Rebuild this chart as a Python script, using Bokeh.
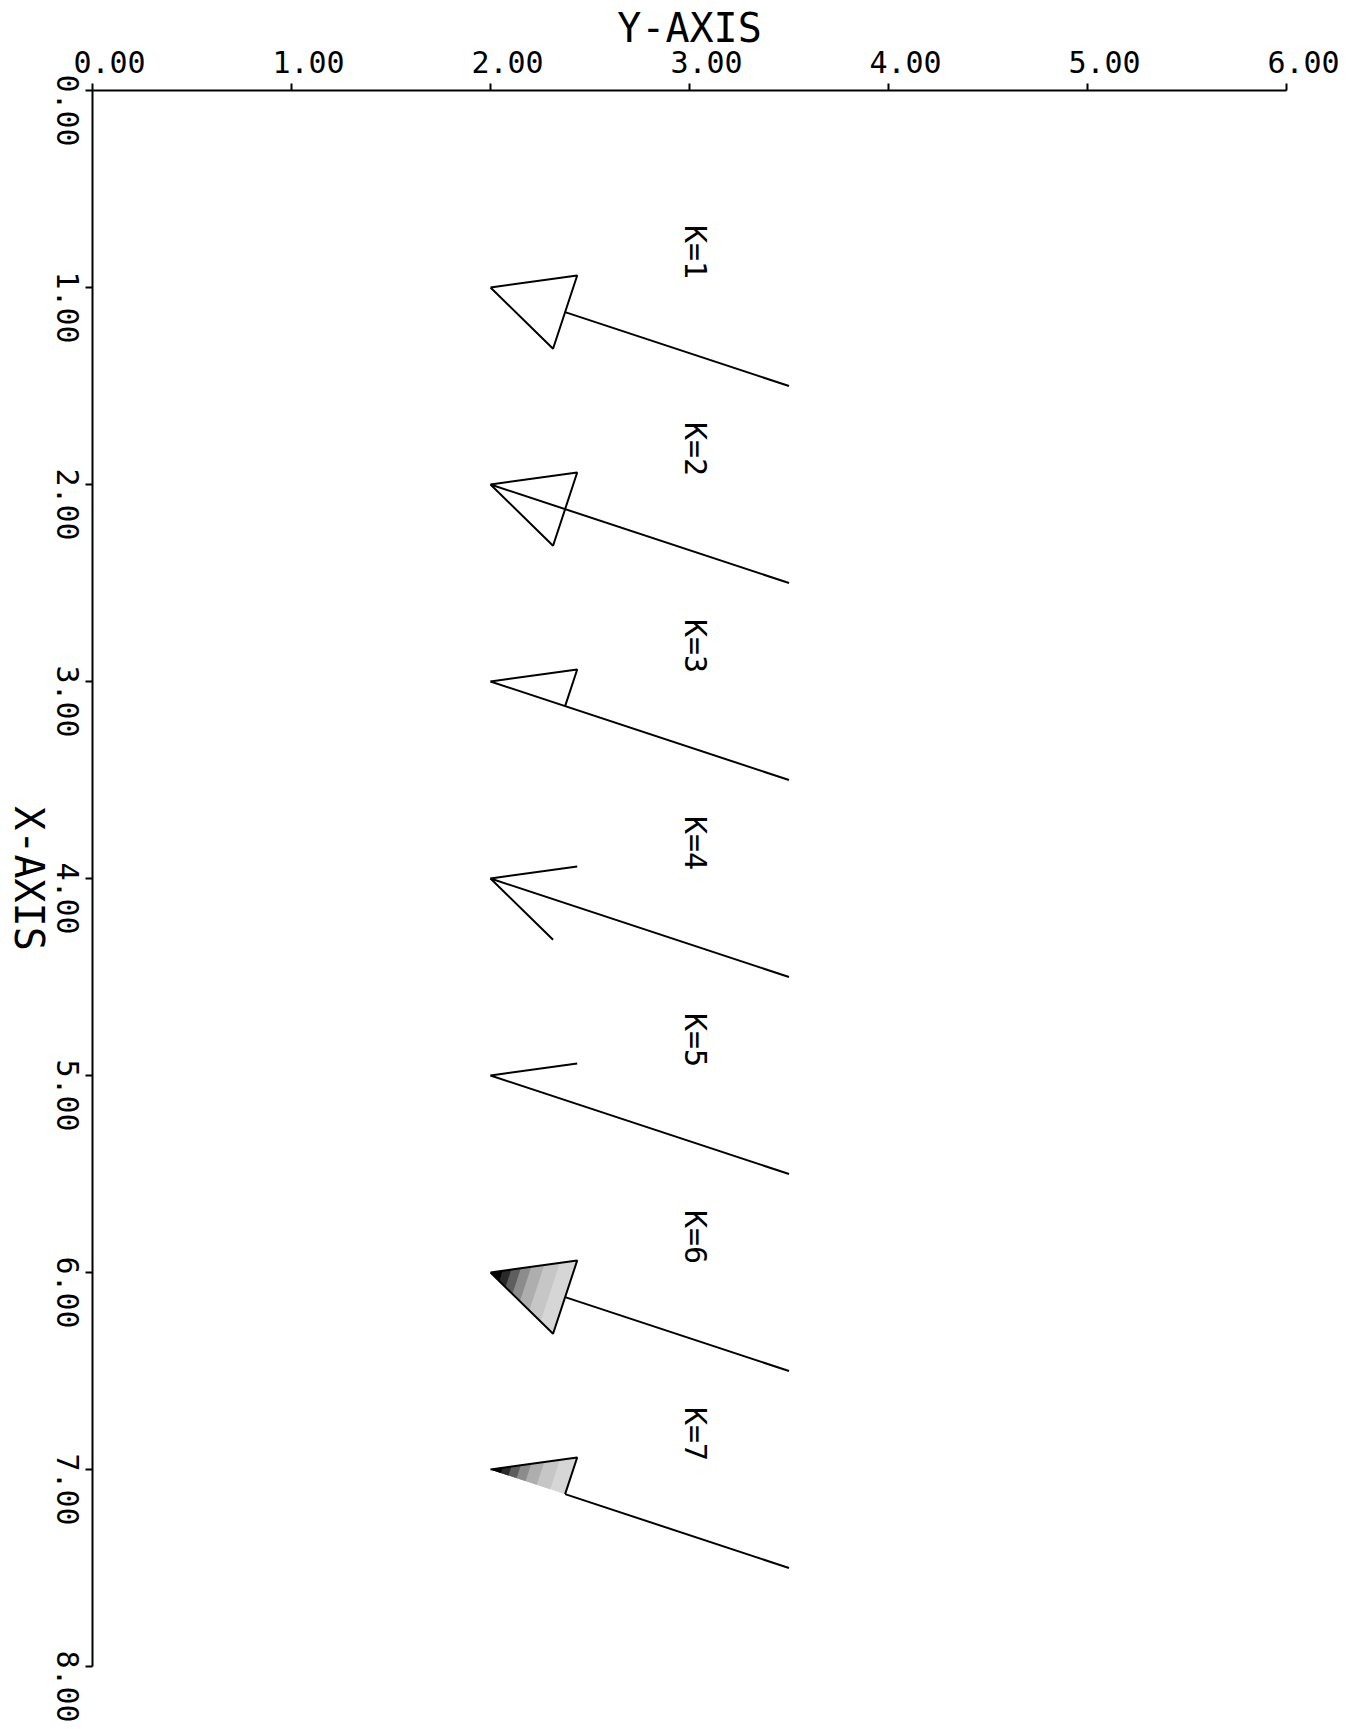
import math
from bokeh.plotting import figure
from bokeh.models import Range1d, FixedTicker, LinearAxis
from bokeh.core.properties import value
from bokeh.embed import file_html
from bokeh.resources import INLINE

FONT = "DejaVu Sans Mono"

# ---- data ----
k_values = [1, 2, 3, 4, 5, 6, 7]
k_labels = ["K=1", "K=2", "K=3", "K=4", "K=5", "K=6", "K=7"]
# arrow tips / tails (X-AXIS runs downward, Y-AXIS runs to the right)
tip_x = [1.0, 2.0, 3.0, 4.0, 5.0, 6.0, 7.0]
tip_y = [2.0, 2.0, 2.0, 2.0, 2.0, 2.0, 2.0]
tail_x = [1.5, 2.5, 3.5, 4.5, 5.5, 6.5, 7.5]
tail_y = [3.5, 3.5, 3.5, 3.5, 3.5, 3.5, 3.5]

y_axis_ticks = [0, 1, 2, 3, 4, 5, 6]
y_axis_tick_labels = ["0.00", "1.00", "2.00", "3.00", "4.00", "5.00", "6.00"]
x_axis_ticks = [0, 1, 2, 3, 4, 5, 6, 7, 8]
x_axis_tick_labels = ["0.00", "1.00", "2.00", "3.00", "4.00", "5.00", "6.00", "7.00", "8.00"]

# ---- layout (the plot frame covers the whole page; axes sit at 0) ----
W, H = 1348, 1729
ORIGIN_PX_X, ORIGIN_PX_Y = 92, 90
sx = 1194 / (y_axis_ticks[-1] - y_axis_ticks[0])   # px per unit, horizontal
sy = 1576 / (x_axis_ticks[-1] - x_axis_ticks[0])   # px per unit, vertical

p = figure(width=W, height=H, title=None,
           x_range=Range1d(-ORIGIN_PX_X / sx, (W - ORIGIN_PX_X) / sx),
           y_range=Range1d((H - ORIGIN_PX_Y) / sy, -ORIGIN_PX_Y / sy),
           x_axis_location=None, y_axis_location=None,
           output_backend="svg", toolbar_location=None,
           min_border=0, min_border_left=0, min_border_right=0,
           min_border_top=0, min_border_bottom=0)
p.grid.grid_line_color = None
p.outline_line_color = None
p.background_fill_color = "white"
p.border_fill_color = "white"

top_axis = LinearAxis(fixed_location=0, bounds=(y_axis_ticks[0], y_axis_ticks[-1]),
                      ticker=FixedTicker(ticks=y_axis_ticks),
                      major_label_overrides={t: "" for t in y_axis_ticks})
left_axis = LinearAxis(fixed_location=0, bounds=(x_axis_ticks[0], x_axis_ticks[-1]),
                       ticker=FixedTicker(ticks=x_axis_ticks),
                       major_label_overrides={t: "" for t in x_axis_ticks})
for ax in (top_axis, left_axis):
    ax.axis_line_width = 2
    ax.axis_line_color = "black"
    ax.major_tick_line_width = 2
    ax.major_tick_line_color = "black"
    ax.major_tick_out = 7
    ax.major_tick_in = 0
    ax.minor_tick_out = 0
    ax.minor_tick_in = 0
p.add_layout(top_axis, "above")
p.add_layout(left_axis, "left")

TXT = dict(text_font=value(FONT), text_color="black",
           text_align="center", text_baseline="middle")

# tick labels, offset the way the plotter drew them
p.text(x=[t + 17 / sx for t in y_axis_ticks], y=[-29 / sy] * len(y_axis_ticks),
       text=y_axis_tick_labels, text_font_size="30px", **TXT)
p.text(x=[-25 / sx] * len(x_axis_ticks), y=[t + 20 / sy for t in x_axis_ticks],
       text=x_axis_tick_labels, angle=-math.pi / 2, text_font_size="30px", **TXT)

# axis titles
p.text(x=[(y_axis_ticks[0] + y_axis_ticks[-1]) / 2], y=[-63 / sy], text=["Y-AXIS"],
       text_font_size="40px", **TXT)
p.text(x=[-64 / sx], y=[(x_axis_ticks[0] + x_axis_ticks[-1]) / 2], text=["X-AXIS"],
       angle=-math.pi / 2, text_font_size="40px", **TXT)

# ---- arrows ----
HEAD_FRAC = 0.25
HEAD_WIDTH_RATIO = 0.49

shaft_x0, shaft_y0, shaft_x1, shaft_y1 = [], [], [], []
outline_xs, outline_ys = [], []
fill_layers = [(1.0, "#d6d6d6"), (0.8, "#c6c6c6"), (0.62, "#aeaeae"),
               (0.47, "#8c8c8c"), (0.35, "#5e5e5e"), (0.24, "#2a2a2a"), (0.14, "#000000")]
fills = {c: ([], []) for _, c in fill_layers}


def to_data(px, py):
    return px / sx, py / sy


for i, k in enumerate(k_values):
    tx, ty = tip_y[i] * sx, tip_x[i] * sy
    ex, ey = tail_y[i] * sx, tail_x[i] * sy
    dx, dy = ex - tx, ey - ty
    L = math.hypot(dx, dy)
    ux, uy = dx / L, dy / L
    nx, ny = -uy, ux
    hl = HEAD_FRAC * L
    hw = HEAD_WIDTH_RATIO * hl
    tip = (tx, ty)
    v_up = (tx + hl * ux - hw * nx, ty + hl * uy - hw * ny)
    v_dn = (tx + hl * ux + hw * nx, ty + hl * uy + hw * ny)
    base = (tx + hl * ux, ty + hl * uy)

    start = base if k in (1, 6, 7) else tip
    s0 = to_data(*start)
    s1 = to_data(ex, ey)
    shaft_x0.append(s0[0]); shaft_y0.append(s0[1])
    shaft_x1.append(s1[0]); shaft_y1.append(s1[1])

    if k in (1, 2, 6):
        pts = [tip, v_up, v_dn, tip]
    elif k in (3, 7):
        pts = [tip, v_up, base]
    elif k == 4:
        pts = [v_up, tip, v_dn]
    else:
        pts = [tip, v_up]
    d = [to_data(*q) for q in pts]
    outline_xs.append([q[0] for q in d])
    outline_ys.append([q[1] for q in d])

    if k in (6, 7):
        poly = [tip, v_up, v_dn] if k == 6 else [tip, v_up, base]
        for s, c in fill_layers:
            sp = [to_data(tx + s * (q[0] - tx), ty + s * (q[1] - ty)) for q in poly]
            fills[c][0].append([q[0] for q in sp])
            fills[c][1].append([q[1] for q in sp])

for _, c in fill_layers:
    xs, ys = fills[c]
    p.patches(xs=xs, ys=ys, fill_color=c, line_color=None)

p.segment(x0=shaft_x0, y0=shaft_y0, x1=shaft_x1, y1=shaft_y1,
          line_color="black", line_width=2)
p.multi_line(xs=outline_xs, ys=outline_ys, line_color="black", line_width=2)

# K labels
lab_h = [(a + b) / 2 + 0.28 for a, b in zip(tip_y, tail_y)]
lab_v = [a - 0.18 for a in tip_x]
p.text(x=lab_h, y=lab_v, text=k_labels, angle=-math.pi / 2,
       text_font_size="30px", **TXT)

open("out.html", "w").write(file_html(p, INLINE))
